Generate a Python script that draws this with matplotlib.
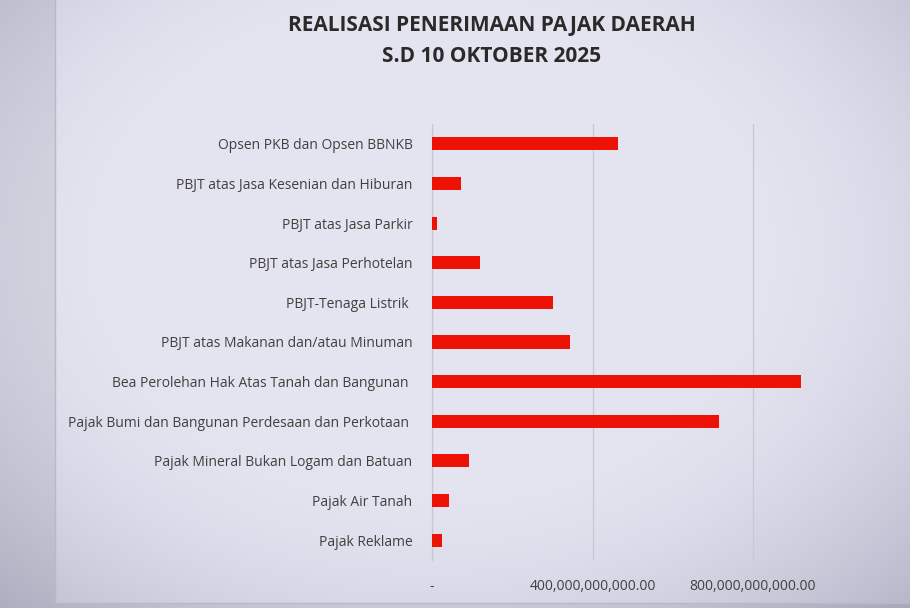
import numpy as np
import matplotlib.pyplot as plt
from matplotlib.ticker import FixedLocator, FuncFormatter
from matplotlib.patches import Rectangle

# categories (top to bottom) and realisation values in rupiah
categories = [
    "Opsen PKB dan Opsen BBNKB",
    "PBJT atas Jasa Kesenian dan Hiburan",
    "PBJT atas Jasa Parkir",
    "PBJT atas Jasa Perhotelan",
    "PBJT-Tenaga Listrik ",
    "PBJT atas Makanan dan/atau Minuman",
    "Bea Perolehan Hak Atas Tanah dan Bangunan ",
    "Pajak Bumi dan Bangunan Perdesaan dan Perkotaan ",
    "Pajak Mineral Bukan Logam dan Batuan",
    "Pajak Air Tanah",
    "Pajak Reklame",
]
values = [463e9, 72e9, 12e9, 120e9, 302e9, 344e9, 920e9, 716e9, 93e9, 43e9, 25e9]
tick_values = [0, 400e9, 800e9]

plt.rcParams['font.family'] = ['Open Sans', 'DejaVu Sans']

W, H = 910, 608
fig = plt.figure(figsize=(W / 100, H / 100), dpi=100)

# background: soft lavender page with darker edges
bg = fig.add_axes([0, 0, 1, 1], zorder=-10)
bg.set_axis_off()
yy, xx = np.mgrid[0:H, 0:W]
cx, cy = 430, 250
r = np.sqrt(((xx - cx) / 560) ** 2 + ((yy - cy) / 420) ** 2)
shade = np.clip(r - 0.55, 0, None) ** 1.6 * 0.35
base = np.array([0.895, 0.895, 0.945])
img = base[None, None, :] - shade[:, :, None] * np.array([1.0, 1.0, 0.85])
outside = (xx < 55) | (yy > 603)
img[outside] = img[outside] - 0.06
bg.imshow(np.clip(img, 0, 1), extent=[0, W, H, 0], aspect='auto')
bg.set_xlim(0, W)
bg.set_ylim(H, 0)
bg.add_patch(Rectangle((55, -5), W, 608, fill=False, edgecolor='#b8b9c4', linewidth=1))

# plot area in pixel terms
left, right, top, bottom = 432, 900, 124, 560
ax = fig.add_axes([left / W, 1 - bottom / H, (right - left) / W, (bottom - top) / H])
ax.patch.set_alpha(0)

y = np.arange(len(categories))
ax.barh(y, values, height=0.33, color='#ee1106', zorder=3)

ax.set_ylim(len(categories) - 0.5, -0.5)
ax.set_xlim(0, (right - left) / 160.5 * 400e9)
ax.set_yticks(y)
ax.set_yticklabels(categories, fontsize=10, color='#404040')
ax.xaxis.set_major_locator(FixedLocator(tick_values))
ax.xaxis.set_major_formatter(FuncFormatter(lambda v, p: '-' if v == 0 else f"{v:,.2f}"))
ax.tick_params(axis='x', length=0, pad=14, labelsize=10, labelcolor='#404040')
ax.tick_params(axis='y', length=0, pad=14)

ax.grid(axis='x', color='#c8c8d2', linewidth=0.9, zorder=0)
for s in ['top', 'right', 'bottom']:
    ax.spines[s].set_visible(False)
ax.spines['left'].set_color('#c8c8d2')
ax.spines['left'].set_linewidth(0.9)

fig.text(492 / W, 1 - 25 / H, "REALISASI PENERIMAAN PAJAK DAERAH", ha='center', va='center',
         fontsize=15, fontweight='bold', color='#2a2a2a', fontstretch='condensed')
fig.text(492 / W, 1 - 57 / H, "S.D 10 OKTOBER 2025", ha='center', va='center',
         fontsize=15, fontweight='bold', color='#2a2a2a')

fig.savefig('out.png', dpi=100)
